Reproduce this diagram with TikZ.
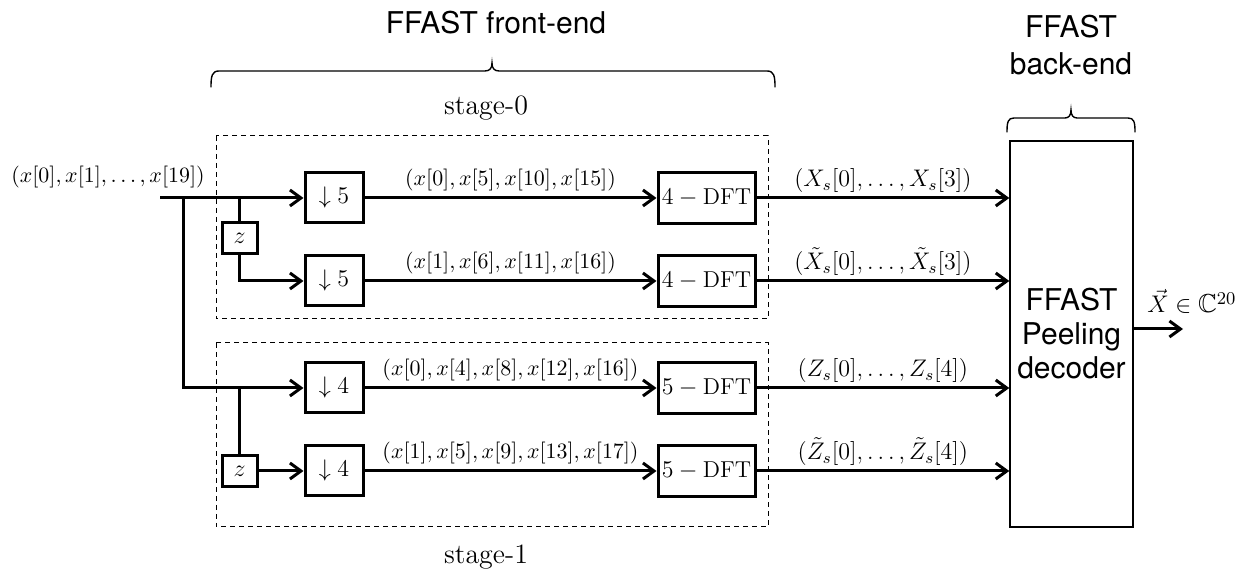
\documentclass[tikz,border=0pt]{standalone}
\usepackage{amsmath,amssymb}
\usepackage{fontspec}
\newfontfamily\heros{TeX Gyre Heros}
\usetikzlibrary{arrows.meta}
\begin{document}
\begin{tikzpicture}[x=0.5pt,y=-0.5pt,
  sig/.style={line width=1.5pt,-{Straight Barb[length=5.5pt,width=8pt]}},
  wire/.style={line width=1.5pt},
  blk/.style={draw,line width=1.5pt,minimum width=29pt,minimum height=25pt,inner sep=0pt,font=\fontsize{11.5}{13}\selectfont},
  dft/.style={blk,minimum width=48.5pt,minimum height=25.5pt},
  zbox/.style={draw,line width=1.5pt,minimum width=17.5pt,minimum height=15.5pt,inner sep=0pt,font=\fontsize{12.5}{13}\selectfont},
  grp/.style={draw,line width=0.5pt,dash pattern=on 2.5pt off 2pt},
  lbl/.style={font=\fontsize{11}{13}\selectfont,inner sep=0pt,anchor=base},
  stg/.style={font=\fontsize{14}{16}\selectfont,inner sep=0pt,anchor=base},
  sans/.style={font=\heros\fontsize{15}{18.5}\selectfont,inner sep=0pt,align=center},
  brc/.style={line width=0.7pt,line cap=round}]
\useasboundingbox (0,0) rectangle (1260,571);

% group frames
\draw[grp] (216,136) rectangle (768,319);
\draw[grp] (216,343) rectangle (768,527);

% headings
\node[sans,anchor=base] (fe) at (496,34) {FFAST front-end};
\node[sans] (be) at (1071,45) {FFAST\\back-end};
\node[stg] (s0) at (486,115) {stage-0};
\node[stg] (s1) at (486,564) {stage-1};

% braces
\draw[brc] (211,87) .. controls (211,76) and (212,71) .. (219,71) -- (485,71)
  .. controls (490,71) and (492,68) .. (492,63)
  .. controls (492,68) and (494,71) .. (499,71) -- (767,71)
  .. controls (774,71) and (775,76) .. (775,87);
\draw[brc] (1007,132) .. controls (1007,122) and (1008,118) .. (1014,118) -- (1065,118)
  .. controls (1069,118) and (1071,115) .. (1071,110)
  .. controls (1071,115) and (1073,118) .. (1077,118) -- (1128,118)
  .. controls (1134,118) and (1135,122) .. (1135,132);

% input
\node[lbl] (inlbl) at (108,182.5) {$(x[0],x[1],\ldots,x[19])$};
\coordinate (in) at (160,198);
\coordinate (br) at (183,198);
\coordinate (t0) at (239.5,198);
\coordinate (t1) at (239.5,388);

% blocks
\node[blk] (d50) at (334,198) {$\downarrow 5$};
\node[blk] (d51) at (334,281) {$\downarrow 5$};
\node[blk] (d40) at (334,388) {$\downarrow 4$};
\node[blk] (d41) at (334,471) {$\downarrow 4$};
\node[zbox] (z0) at (239.5,238.5) {$z$};
\node[zbox] (z1) at (239.5,471) {$z$};
\node[dft] (f0) at (706.5,198) {$4-\mathrm{DFT}$};
\node[dft] (f1) at (706.5,281) {$4-\mathrm{DFT}$};
\node[dft] (f2) at (706.5,388) {$5-\mathrm{DFT}$};
\node[dft] (f3) at (706.5,471) {$5-\mathrm{DFT}$};
\node[draw,line width=0.7pt,minimum width=61.5pt,minimum height=193pt,inner sep=0pt,
      font=\heros\fontsize{15}{17}\selectfont,align=center] (peel) at (1071.5,334) {FFAST\\Peeling\\decoder};
\coordinate (outend) at (1183,329);

% input wiring
\draw[sig] (in) -- (d50.west);
\draw[sig] (br) |- (d40.west);
\draw[wire] (t0) -- (z0.north);
\draw[sig] (z0.south) |- (d51.west);
\draw[wire] (t1) -- (z1.north);
\draw[sig] (z1.east) -- (d41.west);

% decimated streams
\draw[sig] (d50.east) -- (f0.west) node[lbl,midway,yshift=6pt] {$(x[0],x[5],x[10],x[15])$};
\draw[sig] (d51.east) -- (f1.west) node[lbl,midway,yshift=6pt] {$(x[1],x[6],x[11],x[16])$};
\draw[sig] (d40.east) -- (f2.west) node[lbl,midway,yshift=6pt] {$(x[0],x[4],x[8],x[12],x[16])$};
\draw[sig] (d41.east) -- (f3.west) node[lbl,midway,yshift=6pt] {$(x[1],x[5],x[9],x[13],x[17])$};

% DFT outputs
\draw[sig] (f0.east) -- (peel.west |- f0) node[lbl,midway,yshift=5.5pt,font=\fontsize{11.5}{13}\selectfont] {$(X_s[0],\ldots,X_s[3])$};
\draw[sig] (f1.east) -- (peel.west |- f1) node[lbl,midway,yshift=5.5pt,font=\fontsize{11.5}{13}\selectfont] {$(\tilde{X}_s[0],\ldots,\tilde{X}_s[3])$};
\draw[sig] (f2.east) -- (peel.west |- f2) node[lbl,midway,yshift=5.5pt,font=\fontsize{11.5}{13}\selectfont] {$(Z_s[0],\ldots,Z_s[4])$};
\draw[sig] (f3.east) -- (peel.west |- f3) node[lbl,midway,yshift=5.5pt,font=\fontsize{11.5}{13}\selectfont] {$(\tilde{Z}_s[0],\ldots,\tilde{Z}_s[4])$};

% output
\draw[sig] (peel.east |- outend) -- (outend);
\node[font=\fontsize{13}{15}\selectfont,inner sep=0pt,anchor=base west] (outlbl) at (1147,313) {$\vec{X}\in\mathbb{C}^{20}$};
\end{tikzpicture}
\end{document}
